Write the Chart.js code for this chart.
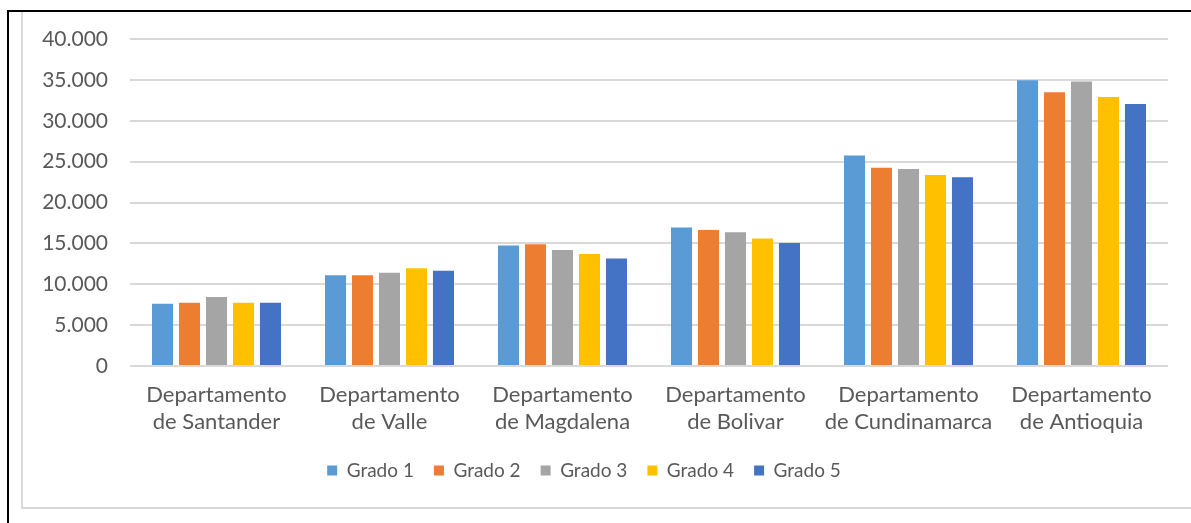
<!DOCTYPE html>
<html>
<head>
<meta charset="utf-8">
<script src="https://cdn.jsdelivr.net/npm/chart.js@4.4.1/dist/chart.umd.min.js"></script>
<style>
  body { margin: 0; background: #fff; }
  #wrap { position: relative; width: 1191px; height: 523px; overflow: hidden; }
  #outer { position: absolute; left: 7px; top: 10px; width: 1300px; height: 600px;
           border-top: 2px solid #000; border-left: 2px solid #000; }
  #inner { position: absolute; left: 21px; top: 12px; width: 1300px; height: 495px;
           border-left: 2px solid #d9d9d9; border-bottom: 2px solid #d9d9d9; }
  #box { position: absolute; left: 0; top: 0; width: 1191px; height: 523px; }
</style>
</head>
<body>
<div id="wrap">
  <div id="outer"></div>
  <div id="inner"></div>
  <div id="box"><canvas id="myChart"></canvas></div>
</div>
<script>
// Categories and series
const departamentos = [
    ['Departamento', 'de Santander'],
    ['Departamento', 'de Valle'],
    ['Departamento', 'de Magdalena'],
    ['Departamento', 'de Bolivar'],
    ['Departamento', 'de Cundinamarca'],
    ['Departamento', 'de Antioquia']
];
const grado1 = [7600, 11100, 14750, 16950, 25750, 34950];
const grado2 = [7750, 11100, 14900, 16650, 24250, 33500];
const grado3 = [8450, 11400, 14200, 16350, 24100, 34800];
const grado4 = [7750, 11950, 13700, 15600, 23350, 32900];
const grado5 = [7750, 11650, 13150, 15050, 23100, 32050];
const yTicks = [0, 5000, 10000, 15000, 20000, 25000, 30000, 35000, 40000];

const textColor = '#595959';
const fontFamily = 'Lato, "Open Sans", sans-serif';

function fmt(v) {
    return String(v).replace(/\B(?=(\d{3})+(?!\d))/g, '.');
}

const ctx = document.getElementById('myChart').getContext('2d');
const chart = new Chart(ctx, {
    type: 'bar',
    data: {
        labels: departamentos,
        datasets: [
            { label: 'Grado 1', data: grado1, backgroundColor: '#5B9BD5' },
            { label: 'Grado 2', data: grado2, backgroundColor: '#ED7D31' },
            { label: 'Grado 3', data: grado3, backgroundColor: '#A5A5A5' },
            { label: 'Grado 4', data: grado4, backgroundColor: '#FFC000' },
            { label: 'Grado 5', data: grado5, backgroundColor: '#4472C4' }
        ]
    },
    options: {
        responsive: true,
        maintainAspectRatio: false,
        animation: false,
        datasets: {
            bar: { categoryPercentage: 0.78, barPercentage: 0.78 }
        },
        layout: { padding: { top: 39, right: 23, left: 0, bottom: 33 } },
        plugins: {
            tooltip: { enabled: false },
            legend: {
                position: 'bottom',
                labels: {
                    color: textColor,
                    font: { family: fontFamily, size: 19 },
                    boxWidth: 10,
                    boxHeight: 10,
                    padding: 20
                }
            }
        },
        scales: {
            x: {
                afterFit: scale => { scale.height = 75; },
                grid: { display: false },
                border: { display: false },
                ticks: {
                    color: textColor,
                    font: { family: fontFamily, size: 22, lineHeight: 1.25 },
                    maxRotation: 0,
                    padding: 7
                }
            },
            y: {
                min: 0,
                max: 40000,
                afterFit: scale => { scale.width = 130; },
                afterBuildTicks: scale => { scale.ticks = yTicks.map(v => ({ value: v })); },
                grid: { color: '#d9d9d9', lineWidth: 2, drawTicks: false },
                border: { display: false },
                ticks: {
                    color: textColor,
                    font: { family: fontFamily, size: 21 },
                    padding: 22,
                    callback: v => fmt(v)
                }
            }
        }
    }
});
</script>
</body>
</html>
